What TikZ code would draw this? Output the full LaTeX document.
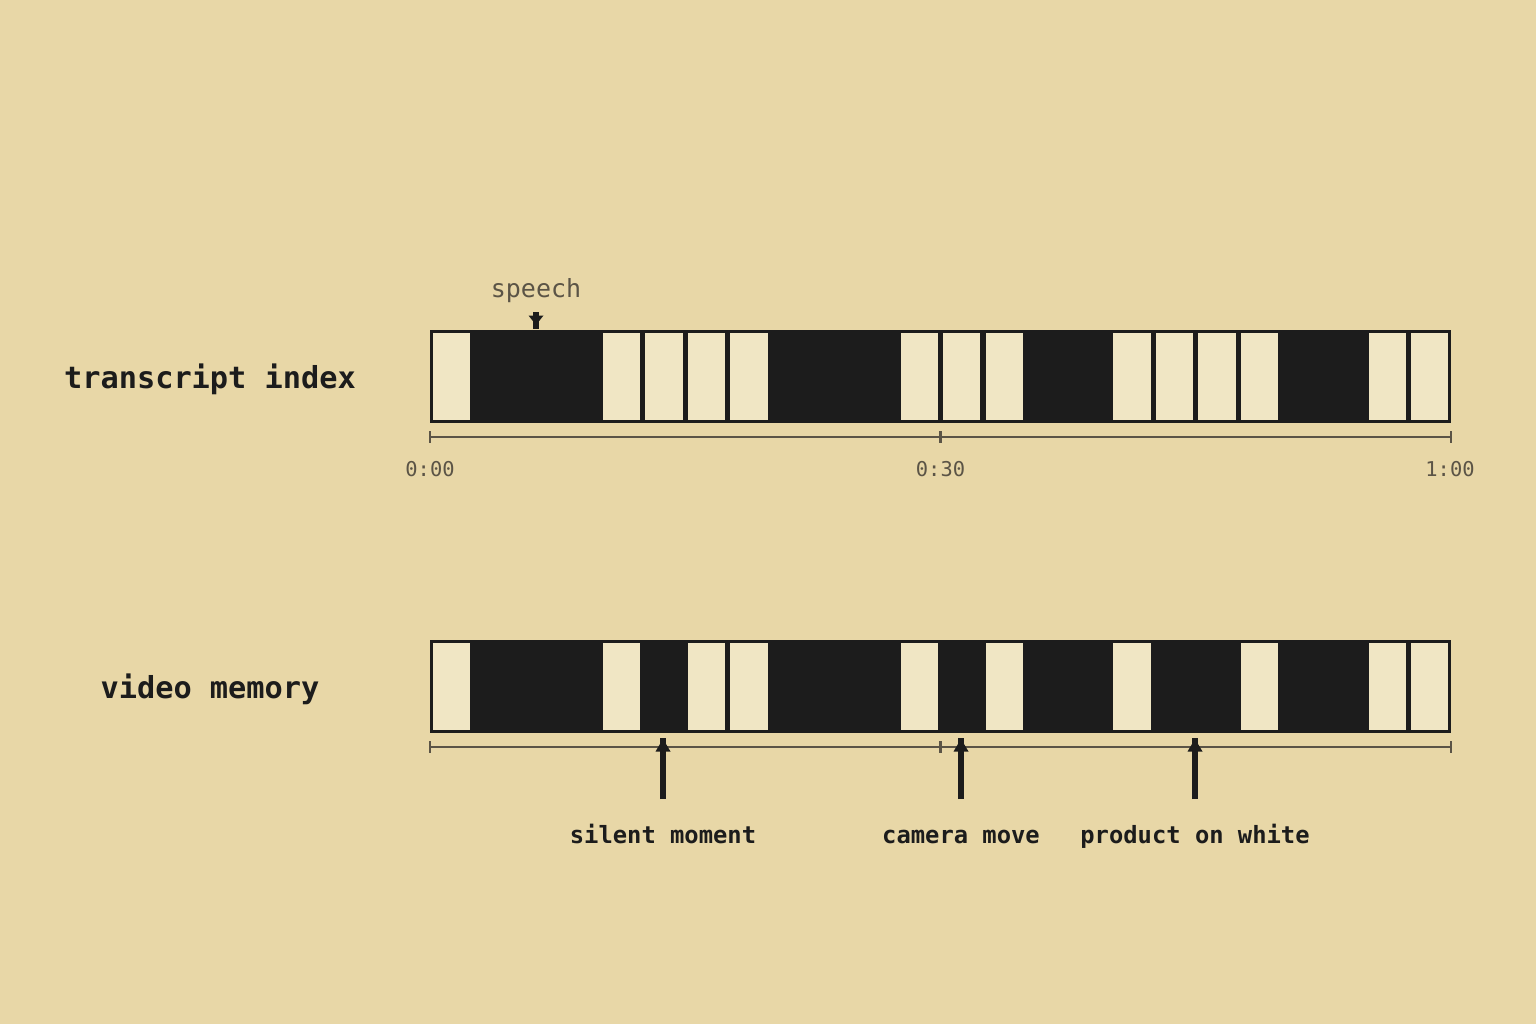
\documentclass[tikz,border=0pt]{standalone}
\usepackage{fontspec}
\newfontfamily\monofont{DejaVu Sans Mono}
\usetikzlibrary{arrows.meta,calc}
\definecolor{bg}{HTML}{E8D7A7}
\definecolor{ink}{HTML}{1C1C1C}
\definecolor{cellc}{HTML}{F0E6C4}
\definecolor{axisgray}{HTML}{5B5446}
\begin{document}
\begin{tikzpicture}[x=1pt,y=-1pt,
  barbox/.style={fill=ink,draw=none,minimum width=1021pt,minimum height=93pt,inner sep=0pt,outer sep=0pt},
  lightcell/.style={fill=cellc,draw=none,minimum width=37.3pt,minimum height=87pt,inner sep=0pt,outer sep=0pt},
  axisline/.style={draw=axisgray,line width=2.2pt},
  rowlabel/.style={font=\monofont\bfseries\fontsize{30.3pt}{36pt}\selectfont,text=ink,anchor=base,inner sep=0pt},
  notelabel/.style={font=\monofont\bfseries\fontsize{23.8pt}{28pt}\selectfont,text=ink,anchor=base,inner sep=0pt},
  speechlabel/.style={font=\monofont\fontsize{25pt}{30pt}\selectfont,text=axisgray,anchor=base,inner sep=0pt},
  timelabel/.style={font=\monofont\fontsize{20.4pt}{24pt}\selectfont,text=axisgray,anchor=base,inner sep=0pt},
  stem/.style={draw=ink,line width=6pt},
  headtri/.style={fill=ink}
]
\fill[bg] (0,0) rectangle (1536,1024);
\useasboundingbox (0,0) rectangle (1536,1024);

% row labels
\node[rowlabel] (rtrans) at (210,388) {transcript index};
\node[rowlabel] (rvideo) at (210,698) {video memory};

% bars
\node[barbox] (tbar) at (940.5,376.5) {};
\node[barbox] (vbar) at (940.5,686.5) {};
\foreach \k in {0,4,5,6,7,11,12,13,16,17,18,19,22,23}
  \node[lightcell] (t\k) at ({430+42.5417*\k+21.27},376.5) {};
\foreach \k in {0,4,6,7,11,13,16,19,22,23}
  \node[lightcell] (v\k) at ({430+42.5417*\k+21.27},686.5) {};

% top axis
\coordinate (ta0) at (430,437);
\coordinate (ta1) at (940.5,437);
\coordinate (ta2) at (1451,437);
\draw[axisline] (ta0) -- (ta2);
\foreach \c in {ta0,ta1,ta2}
  \draw[axisline] ($(\c)+(0,-6)$) -- ($(\c)+(0,6)$);
\node[timelabel] (t000) at (430,476) {0:00};
\node[timelabel] (t030) at (940.5,476) {0:30};
\node[timelabel] (t100) at (1450,476) {1:00};

% bottom axis
\coordinate (va0) at (430,747);
\coordinate (va1) at (940.5,747);
\coordinate (va2) at (1451,747);
\draw[axisline] (va0) -- (va2);
\foreach \c in {va0,va1,va2}
  \draw[axisline] ($(\c)+(0,-6)$) -- ($(\c)+(0,6)$);

% speech label and arrow
\node[speechlabel] (speech) at (536,298) {speech};
\coordinate (sp0) at (536,312);
\coordinate (sp1) at (536,329);
\draw[draw=ink,line width=5.5pt] (sp0) -- (sp1);
\fill[headtri] ($(sp0)+(-7.5,3.5)$) -- ($(sp0)+(7.5,3.5)$) -- ($(sp0)+(0,13)$) -- cycle;

% bottom arrows and labels
\foreach \n/\x/\txt in {silent/663/silent moment, camera/961/camera move, product/1195/product on white}{
  \coordinate (\n bot) at (\x,799);
  \coordinate (\n top) at (\x,738);
  \draw[stem] (\n bot) -- (\n top);
  \fill[headtri] ($(\n top)+(-7.5,13.5)$) -- ($(\n top)+(7.5,13.5)$) -- ($(\n top)+(0,1)$) -- cycle;
  \node[notelabel] (\n) at (\x,843) {\txt};
}
\end{tikzpicture}
\end{document}
